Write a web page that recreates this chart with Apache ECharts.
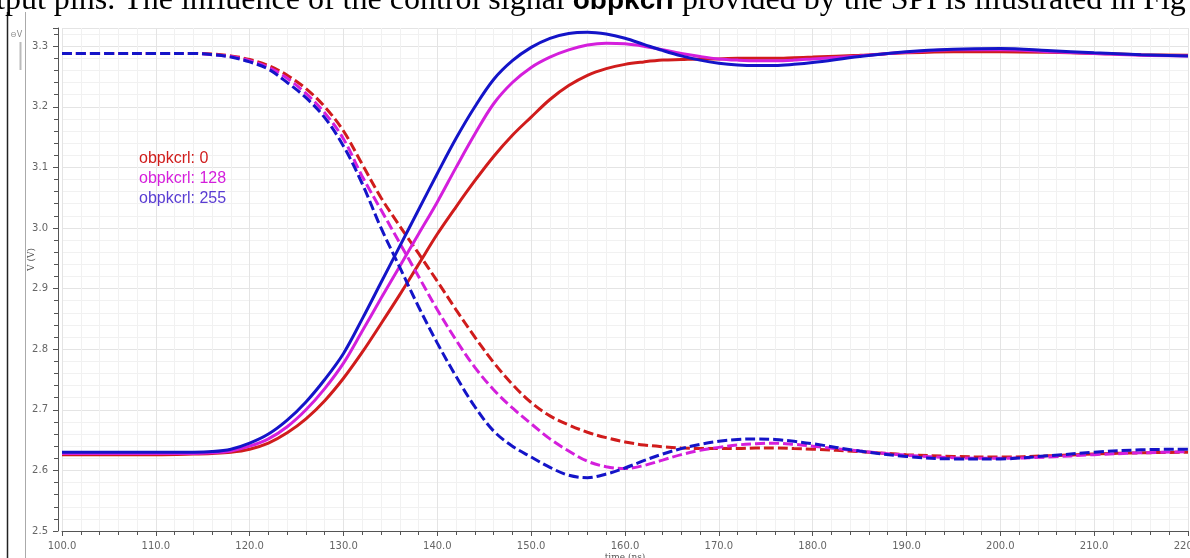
<html>
<head>
<meta charset="UTF-8">
<script src="https://cdn.jsdelivr.net/npm/echarts@6/dist/echarts.min.js"></script>
<style>
html,body{margin:0;padding:0;background:#fff;}
#chart{width:1190px;height:558px;}
</style>
</head>
<body>
<div id="chart"></div>
<script type="text/javascript">
// time axis (ns)
var times = [100,105,110,114,116,118,120,122,124,126,128,130,132,134,136,138,140,142,144,146,148,150,152,154,156,158,160,162,164,166,168,170,172,174,176,178,180,185,190,195,200,205,210,215,220];

// rising edges (solid)
var rise0 = [2.626,2.626,2.626,2.627,2.628,2.630,2.635,2.645,2.662,2.685,2.715,2.752,2.795,2.842,2.890,2.940,2.990,3.035,3.078,3.118,3.153,3.183,3.212,3.235,3.252,3.263,3.270,3.274,3.277,3.278,3.279,3.279,3.280,3.280,3.280,3.281,3.282,3.285,3.289,3.291,3.291,3.290,3.288,3.286,3.285];
var rise128 = [2.628,2.628,2.628,2.628,2.629,2.632,2.640,2.652,2.672,2.700,2.735,2.777,2.830,2.884,2.937,2.990,3.043,3.100,3.155,3.205,3.240,3.265,3.282,3.294,3.302,3.305,3.304,3.300,3.294,3.288,3.283,3.279,3.277,3.276,3.276,3.277,3.279,3.284,3.290,3.294,3.294,3.291,3.288,3.285,3.284];
var rise255 = [2.630,2.630,2.630,2.630,2.631,2.635,2.645,2.660,2.683,2.713,2.750,2.793,2.850,2.910,2.970,3.030,3.090,3.148,3.200,3.245,3.276,3.298,3.313,3.321,3.323,3.320,3.313,3.303,3.293,3.284,3.277,3.272,3.269,3.268,3.268,3.270,3.273,3.283,3.291,3.295,3.296,3.293,3.289,3.286,3.284];

// falling edges (dashed)
var fall0 = [3.288,3.288,3.288,3.288,3.287,3.284,3.278,3.268,3.252,3.230,3.200,3.160,3.105,3.050,3.003,2.958,2.912,2.865,2.820,2.778,2.742,2.712,2.690,2.675,2.663,2.654,2.647,2.642,2.639,2.637,2.636,2.636,2.636,2.637,2.637,2.636,2.635,2.631,2.626,2.623,2.622,2.624,2.627,2.629,2.630];
var fall128 = [3.288,3.288,3.288,3.288,3.286,3.283,3.276,3.265,3.247,3.222,3.190,3.147,3.085,3.030,2.975,2.920,2.865,2.815,2.770,2.733,2.703,2.677,2.652,2.632,2.615,2.606,2.603,2.608,2.617,2.626,2.633,2.638,2.642,2.644,2.645,2.643,2.640,2.632,2.625,2.621,2.620,2.622,2.626,2.629,2.631];
var fall255 = [3.288,3.288,3.288,3.288,3.286,3.282,3.274,3.262,3.240,3.215,3.182,3.135,3.073,3.000,2.935,2.870,2.810,2.755,2.705,2.665,2.640,2.622,2.605,2.592,2.588,2.594,2.604,2.616,2.627,2.636,2.643,2.648,2.651,2.652,2.651,2.648,2.644,2.632,2.623,2.619,2.619,2.624,2.630,2.634,2.635];

var names = ['obpkcrl: 0','obpkcrl: 128','obpkcrl: 255'];
var colors = ['#d01c1c','#d41fdc','#1414c8'];
var legendColors = ['#d01c1c','#d41fdc','#5a3cd2'];

function pairs(vals){
  var out = [];
  for(var i=0;i<times.length;i++){ out.push([times[i], vals[i]]); }
  return out;
}

function mkSeries(idx, vals, dashed){
  return {
    name: names[idx],
    type: 'line',
    data: pairs(vals),
    showSymbol: false,
    smooth: 0.35,
    lineStyle: { color: colors[idx], width: 3, type: dashed ? [10,4] : 'solid' },
    itemStyle: { color: colors[idx] },
    z: 2 + idx
  };
}

var myChart = echarts.init(document.getElementById('chart'));
myChart.setOption({
  animation: false,
  backgroundColor: '#fff',
  grid: { left: 62, right: 2, top: 28, bottom: 27, outerBoundsMode: 'none', containLabel: false },
  legend: {
    left: 129, top: 146, orient: 'vertical', itemGap: 4,
    icon: 'none', itemWidth: 0, itemHeight: 0,
    textStyle: { fontFamily: 'Liberation Sans', fontSize: 16 },
    data: names.map(function(n,i){ return { name: n, textStyle: { color: legendColors[i] } }; })
  },
  xAxis: {
    type: 'value', min: 100, max: 220, interval: 10,
    name: 'time (ns)', nameLocation: 'middle', nameGap: 22, nameMoveOverlap: false,
    nameTextStyle: { color: '#555', fontSize: 9, fontFamily: 'DejaVu Serif' },
    axisLine: { lineStyle: { color: '#555', width: 1 } },
    axisTick: { length: 5, lineStyle: { color: '#555' } },
    minorTick: { show: true, splitNumber: 5, length: 4, lineStyle: { color: '#555' } },
    axisLabel: { color: '#666', fontSize: 10, fontFamily: 'DejaVu Sans', margin: 10,
      formatter: function(v){ return v.toFixed(1); } },
    splitLine: { show: true, lineStyle: { color: '#e4e4e4' } },
    minorSplitLine: { show: true, lineStyle: { color: '#f1f1f1' } }
  },
  yAxis: {
    type: 'value', min: 2.5, max: 3.33, interval: 0.1, offset: 4,
    name: 'V (V)', nameLocation: 'middle', nameGap: 22, nameMoveOverlap: false,
    nameTextStyle: { color: '#555', fontSize: 9, fontFamily: 'DejaVu Serif', padding: [0, 0, 0, 40] },
    axisLine: { show: true, lineStyle: { color: '#555', width: 1 } },
    axisTick: { show: true, length: 5, lineStyle: { color: '#555' } },
    minorTick: { show: true, splitNumber: 5, length: 4, lineStyle: { color: '#555' } },
    axisLabel: { color: '#666', fontSize: 10, fontFamily: 'DejaVu Sans', margin: 10, showMaxLabel: false,
      formatter: function(v){ return v.toFixed(1); } },
    splitLine: { show: true, lineStyle: { color: '#e4e4e4' } },
    minorSplitLine: { show: true, lineStyle: { color: '#f1f1f1' } }
  },
  graphic: [
    { type: 'text', left: -4, top: -15, z: 100,
      style: {
        text: 'tput pins. The influence of the control signal {b|obpkcrl} provided by the SPI is illustrated in Fig',
        fill: '#000', font: '32px "Liberation Serif"',
        rich: { b: { fontFamily: 'Liberation Sans', fontWeight: 'bold', fontSize: 28, fill: '#000' } }
      } },
    { type: 'line', shape: { x1: 7.5, y1: 12, x2: 7.5, y2: 558 }, style: { stroke: '#222', lineWidth: 1.5 } },
    { type: 'line', shape: { x1: 25.5, y1: 12, x2: 25.5, y2: 558 }, style: { stroke: '#aaa', lineWidth: 1 } },
    { type: 'line', shape: { x1: 20.5, y1: 42, x2: 20.5, y2: 70 }, style: { stroke: '#bbb', lineWidth: 2 } },
    { type: 'text', x: 10, y: 31, style: { text: '⊖V', fill: '#888', font: '8px "DejaVu Sans"' } }
  ],
  series: [
    mkSeries(0, fall0, true),
    mkSeries(1, fall128, true),
    mkSeries(2, fall255, true),
    mkSeries(0, rise0, false),
    mkSeries(1, rise128, false),
    mkSeries(2, rise255, false)
  ]
});
</script>
</body>
</html>
